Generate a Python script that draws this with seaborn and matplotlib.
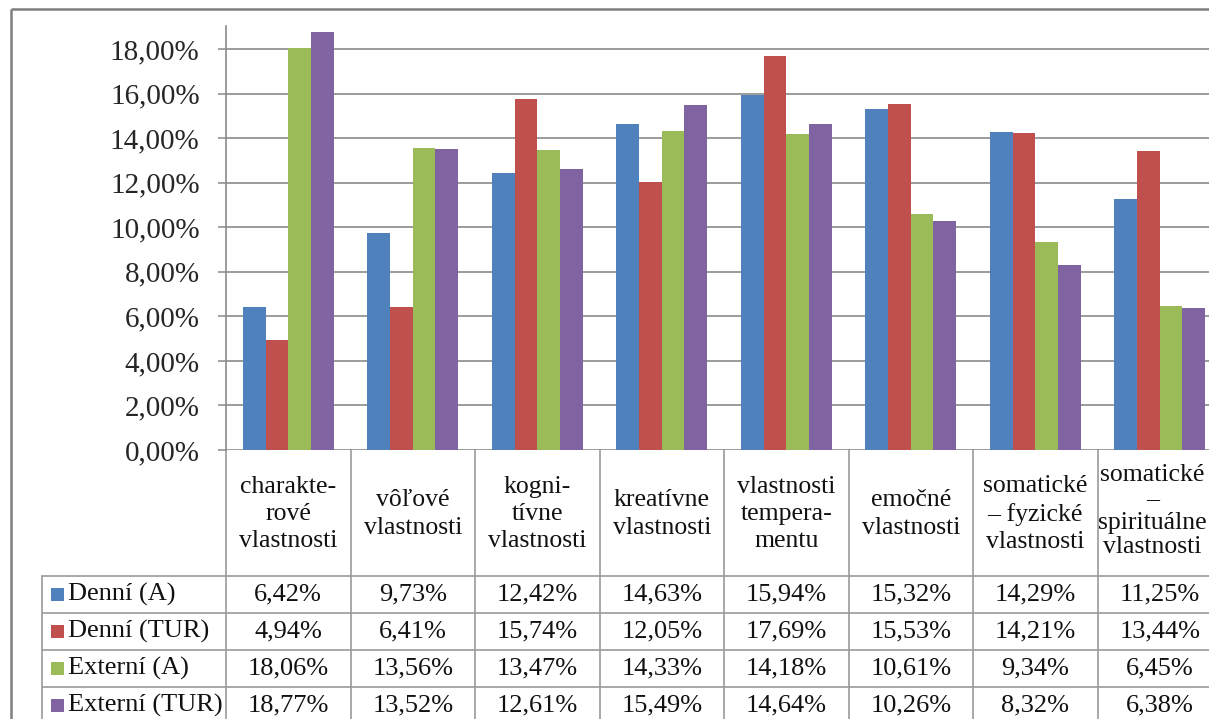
import numpy as np
import pandas as pd
import matplotlib
matplotlib.use("Agg")
import matplotlib.pyplot as plt
import seaborn as sns
from matplotlib.transforms import blended_transform_factory
from matplotlib.patches import Rectangle

# --- data -----------------------------------------------------------------
categories = [
    "charakte-\nrové\nvlastnosti",
    "vôľové\nvlastnosti",
    "kogni-\ntívne\nvlastnosti",
    "kreatívne\nvlastnosti",
    "vlastnosti\ntempera-\nmentu",
    "emočné\nvlastnosti",
    "somatické\n– fyzické\nvlastnosti",
    "somatické\n–\nspirituálne\nvlastnosti",
]
series_names = ["Denní (A)", "Denní (TUR)", "Externí (A)", "Externí (TUR)"]
denni_a = [6.42, 9.73, 12.42, 14.63, 15.94, 15.32, 14.29, 11.25]
denni_tur = [4.94, 6.41, 15.74, 12.05, 17.69, 15.53, 14.21, 13.44]
externi_a = [18.06, 13.56, 13.47, 14.33, 14.18, 10.61, 9.34, 6.45]
externi_tur = [18.77, 13.52, 12.61, 15.49, 14.64, 10.26, 8.32, 6.38]
y_ticks = [0, 2, 4, 6, 8, 10, 12, 14, 16, 18]

series_values = [denni_a, denni_tur, externi_a, externi_tur]
colors = ["#4F81BD", "#C0504D", "#9BBB59", "#8064A2"]

df = pd.DataFrame(
    [(cat, name, val)
     for name, vals in zip(series_names, series_values)
     for cat, val in zip(categories, vals)],
    columns=["kategoria", "skupina", "podiel"],
)


def pct(v):
    return f"{v:.2f}%".replace(".", ",")


# --- figure ---------------------------------------------------------------
sns.set_theme(style="white")
plt.rcParams["font.family"] = ["Liberation Serif", "DejaVu Serif"]
plt.rcParams["text.color"] = "#111111"

W, H = 1209, 719
fig = plt.figure(figsize=(W / 100, H / 100), dpi=100)
fig.patch.set_facecolor("white")

# full-figure pixel canvas for the frame and data table
bg = fig.add_axes([0, 0, 1, 1], zorder=0)
bg.set_xlim(0, W)
bg.set_ylim(H, 0)
bg.axis("off")

ax = fig.add_axes([226 / W, 1 - 450 / H, (1222 - 226) / W, (450 - 26) / H], zorder=1)
ax.patch.set_alpha(0)

sns.barplot(
    data=df, x="kategoria", y="podiel", hue="skupina",
    order=categories, hue_order=series_names, palette=colors,
    width=0.727, saturation=1, legend=False, linewidth=0, ax=ax,
)

grid_c = "#8a8a8a"
line_c = "#9a9a9a"
ax.set_xlim(-0.5, len(categories) - 0.5)
ax.set_ylim(0, 19.03)
ax.set_yticks(y_ticks)
ax.set_yticklabels([pct(t) for t in y_ticks])
ax.set_xticks([])
ax.set_xlabel("")
ax.set_ylabel("")
for s in ["top", "right", "bottom"]:
    ax.spines[s].set_visible(False)
ax.spines["left"].set_color(grid_c)
ax.spines["left"].set_linewidth(1.2)
ax.tick_params(axis="y", length=6, width=1.1, color=grid_c, pad=13,
               labelsize=21, left=True)
ax.yaxis.grid(True, color=grid_c, linewidth=1.2)
ax.set_axisbelow(True)

# outer chart frame
bg.plot([11, 11], [9, H], color="#7f7f7f", lw=1.8, solid_capstyle="butt")
bg.plot([11, W], [9, 9], color="#7f7f7f", lw=1.8, solid_capstyle="butt")

# data table below the plot
tr = blended_transform_factory(ax.transData, bg.transData)
n = len(categories)
for k in range(n + 1):
    bg.plot([k - 0.5, k - 0.5], [450, H], color=line_c, lw=1.2, transform=tr)

row_lines = [576, 613, 650, 687, 724]
for y in row_lines[:-1]:
    bg.plot([42, W], [y, y], color=line_c, lw=1.2)
bg.plot([42, 42], [row_lines[0], H], color=line_c, lw=1.2)

for i, cat in enumerate(categories):
    four_lines = cat.count("\n") == 3
    bg.text(i - (0.06 if four_lines else 0), 511 if four_lines else 514, cat,
            transform=tr, ha="center", va="center",
            fontsize=18.5, linespacing=1.12 if four_lines else 1.3)

for r, (name, vals, c) in enumerate(zip(series_names, series_values, colors)):
    yc = (row_lines[r] + row_lines[r + 1]) / 2
    bg.add_patch(Rectangle((51, yc - 6.5), 13, 13, color=c, lw=0))
    bg.text(68, yc, name, ha="left", va="center", fontsize=19)
    for i, v in enumerate(vals):
        bg.text(i, yc, pct(v), transform=tr, ha="center", va="center",
                fontsize=19)

fig.savefig("out.png", dpi=100, facecolor="white")
